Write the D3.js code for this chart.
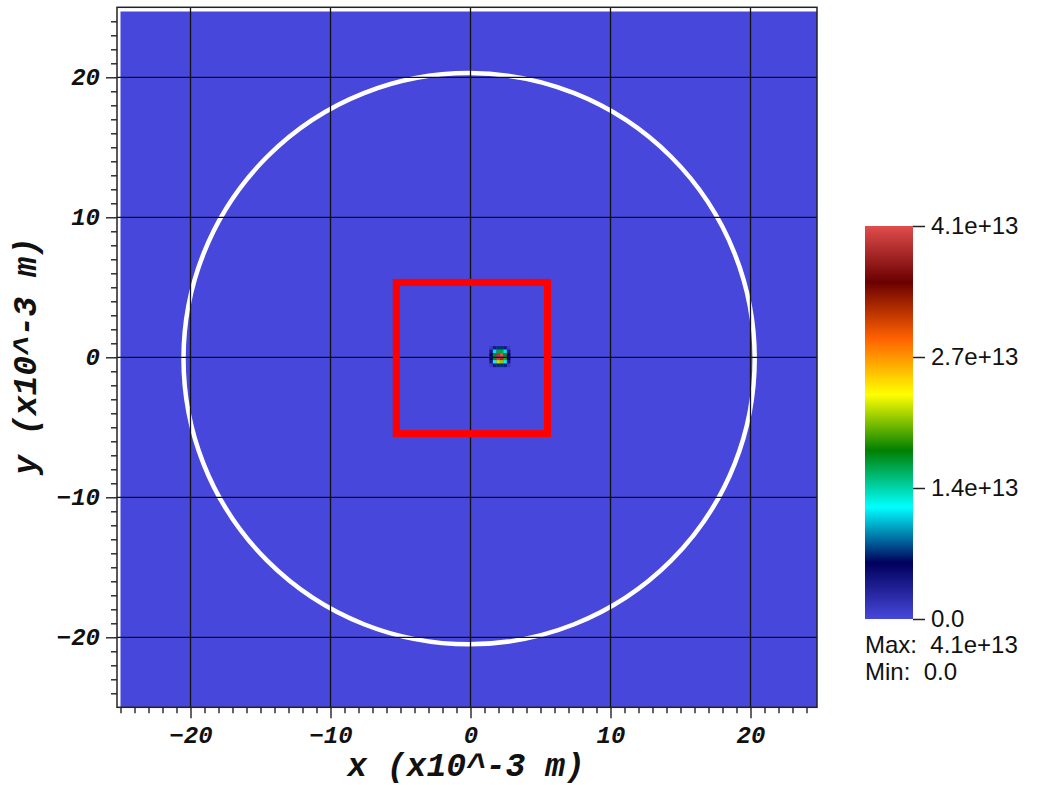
<!DOCTYPE html>
<html>
<head>
<meta charset="utf-8">
<script src="https://cdn.jsdelivr.net/npm/d3@7"></script>
<style>
  body { margin: 0; background: #fff; }
  svg { display: block; }
</style>
</head>
<body>
<div id="chart"></div>
<script>
// axis ranges (x10^-3 m)
var xDomain = [-25.25, 24.75];
var yDomain = [-25, 25];
var fieldX = [-25, 24.75];
var fieldY = [-25, 24.7];
var majorTicks = [-20, -10, 0, 10, 20];
var minorTicks = d3.range(-25, 26, 1);

// white ring and red box
var ringCenter = [-0.1, -0.1];
var ringRadius = 20.4;
var boxX = [-5.3, 5.5];
var boxY = [-5.45, 5.35];

// hot spot cells (values in 1e13)
var cellSize = 0.25;
var spotX = [1.475, 1.725, 1.975, 2.225, 2.475, 2.725];
var spotY = [0.675, 0.425, 0.175, -0.075, -0.325, -0.575];
var spotValues = [
  [0.1, 0.4, 0.7, 0.7, 0.4, 0.1],
  [0.4, 1.1, 1.6, 1.6, 1.1, 0.4],
  [0.6, 1.7, 3.9, 4.1, 1.7, 0.6],
  [0.6, 1.8, 4.0, 3.8, 1.9, 0.6],
  [0.4, 1.2, 2.2, 2.1, 1.2, 0.4],
  [0.1, 0.4, 0.7, 0.7, 0.4, 0.1]
];

// colour map (rainbow desaturated)
var cmapStops = [0, 0.143, 0.285, 0.429, 0.571, 0.714, 0.857, 1];
var cmapColors = ["#4747db", "#00005c", "#00ffff", "#008000", "#ffff00", "#ff6100", "#6b0000", "#e04d4d"];
var valueMax = 4.1;
var cbTickValues = [0, 4.1 / 3, 8.2 / 3, 4.1];
var cbTickLabels = ["0.0", "1.4e+13", "2.7e+13", "4.1e+13"];

function main(){
    var svg = d3.select("#chart").append("svg")
        .attr("width", 1038)
        .attr("height", 785);

    var x = d3.scaleLinear().domain(xDomain).range([117, 817]);
    var y = d3.scaleLinear().domain(yDomain).range([707.3, 7.3]);
    var color = d3.scaleLinear()
        .domain(cmapStops.map(function(s){ return s * valueMax; }))
        .range(cmapColors);

    // background field
    svg.append("rect")
        .attr("x", x(fieldX[0]))
        .attr("y", y(fieldY[1]))
        .attr("width", x(fieldX[1]) - x(fieldX[0]))
        .attr("height", y(fieldY[0]) - y(fieldY[1]))
        .attr("fill", color(0));

    // ring
    svg.append("ellipse")
        .attr("cx", x(ringCenter[0]))
        .attr("cy", y(ringCenter[1]))
        .attr("rx", x(ringCenter[0] + ringRadius) - x(ringCenter[0]))
        .attr("ry", y(ringCenter[1]) - y(ringCenter[1] + ringRadius))
        .attr("fill", "none")
        .attr("stroke", "#fff")
        .attr("stroke-width", 4.5);

    // hot spot
    var cells = [];
    spotY.forEach(function(cy, i){
        spotX.forEach(function(cx, j){
            cells.push({cx: cx, cy: cy, v: spotValues[i][j]});
        });
    });
    svg.append("g").selectAll("rect")
        .data(cells)
        .enter().append("rect")
        .attr("x", function(d){ return x(d.cx - cellSize / 2); })
        .attr("y", function(d){ return y(d.cy + cellSize / 2); })
        .attr("width", x(cellSize) - x(0))
        .attr("height", y(0) - y(cellSize))
        .attr("fill", function(d){ return color(d.v); });

    // grid lines
    var grid = svg.append("g").attr("stroke", "#111").attr("stroke-width", 1.3);
    majorTicks.forEach(function(t){
        grid.append("line").attr("x1", x(t)).attr("x2", x(t)).attr("y1", y(yDomain[1])).attr("y2", y(yDomain[0]));
        grid.append("line").attr("y1", y(t)).attr("y2", y(t)).attr("x1", x(xDomain[0])).attr("x2", x(xDomain[1]));
    });

    // red box
    svg.append("rect")
        .attr("x", x(boxX[0]))
        .attr("y", y(boxY[1]))
        .attr("width", x(boxX[1]) - x(boxX[0]))
        .attr("height", y(boxY[0]) - y(boxY[1]))
        .attr("fill", "none")
        .attr("stroke", "#ff0000")
        .attr("stroke-width", 7);

    // frame
    svg.append("rect")
        .attr("x", x(xDomain[0]))
        .attr("y", y(yDomain[1]))
        .attr("width", x(xDomain[1]) - x(xDomain[0]))
        .attr("height", y(yDomain[0]) - y(yDomain[1]))
        .attr("fill", "none")
        .attr("stroke", "#222")
        .attr("stroke-width", 1.5);

    var minorX = minorTicks.filter(function(t){ return t >= xDomain[0] && t <= xDomain[1] && majorTicks.indexOf(t) < 0; });
    var minorY = minorTicks.filter(function(t){ return t > yDomain[0] && t < yDomain[1] && majorTicks.indexOf(t) < 0; });

    var tickFont = "'Liberation Mono', 'DejaVu Sans Mono', monospace";

    var xMinor = svg.append("g")
        .attr("transform", "translate(0," + y(yDomain[0]) + ")")
        .call(d3.axisBottom(x).tickValues(minorX).tickSize(6).tickFormat(""));
    var xMajor = svg.append("g")
        .attr("transform", "translate(0," + y(yDomain[0]) + ")")
        .call(d3.axisBottom(x).tickValues(majorTicks).tickSize(11).tickPadding(8));
    var yMinor = svg.append("g")
        .attr("transform", "translate(" + x(xDomain[0]) + ",0)")
        .call(d3.axisLeft(y).tickValues(minorY).tickSize(6).tickFormat(""));
    var yMajor = svg.append("g")
        .attr("transform", "translate(" + x(xDomain[0]) + ",0)")
        .call(d3.axisLeft(y).tickValues(majorTicks).tickSize(11).tickPadding(6));

    [xMinor, xMajor, yMinor, yMajor].forEach(function(g){
        g.select(".domain").remove();
        g.selectAll("line").attr("stroke", "#222").attr("stroke-width", 1.4);
        g.selectAll("text")
            .attr("fill", "#111")
            .style("font-family", tickFont)
            .style("font-weight", "bold")
            .style("font-style", "italic")
            .style("font-size", "24px");
    });

    // axis titles
    svg.append("text")
        .attr("x", 466)
        .attr("y", 776)
        .attr("text-anchor", "middle")
        .style("font-family", tickFont)
        .style("font-weight", "bold")
        .style("font-style", "italic")
        .style("font-size", "33px")
        .attr("fill", "#111")
        .text("x (x10^-3 m)");
    svg.append("text")
        .attr("transform", "translate(36,356) rotate(-90)")
        .attr("text-anchor", "middle")
        .style("font-family", tickFont)
        .style("font-weight", "bold")
        .style("font-style", "italic")
        .style("font-size", "33px")
        .attr("fill", "#111")
        .text("y (x10^-3 m)");

    // colour bar
    var cb = {x: 865, w: 48, top: 226, bottom: 619};
    var cbScale = d3.scaleLinear().domain([0, valueMax]).range([cb.bottom, cb.top]);
    var grad = svg.append("defs").append("linearGradient")
        .attr("id", "cbgrad")
        .attr("x1", "0").attr("x2", "0").attr("y1", "1").attr("y2", "0");
    cmapStops.forEach(function(s, i){
        grad.append("stop").attr("offset", s).attr("stop-color", cmapColors[i]);
    });
    svg.append("rect")
        .attr("x", cb.x)
        .attr("y", cb.top)
        .attr("width", cb.w)
        .attr("height", cb.bottom - cb.top)
        .attr("fill", "url(#cbgrad)");

    var cbAxis = svg.append("g")
        .attr("transform", "translate(" + (cb.x + cb.w) + ",0)")
        .call(d3.axisRight(cbScale).tickValues(cbTickValues).tickSize(12).tickPadding(6)
            .tickFormat(function(d, i){ return cbTickLabels[i]; }));
    cbAxis.select(".domain").remove();
    cbAxis.selectAll("line").attr("stroke", "#222").attr("stroke-width", 1.5);
    cbAxis.selectAll("text")
        .attr("fill", "#111")
        .style("font-family", "'Liberation Sans', Arial, sans-serif")
        .style("font-size", "24px");

    var info = [["Max:  4.1e+13", 653], ["Min:  0.0", 680]];
    info.forEach(function(r){
        svg.append("text")
            .attr("x", cb.x)
            .attr("y", r[1])
            .attr("fill", "#111")
            .attr("xml:space", "preserve")
            .style("white-space", "pre")
            .style("font-family", "'Liberation Sans', Arial, sans-serif")
            .style("font-size", "24px")
            .text(r[0]);
    });
}

main();
</script>
</body>
</html>
